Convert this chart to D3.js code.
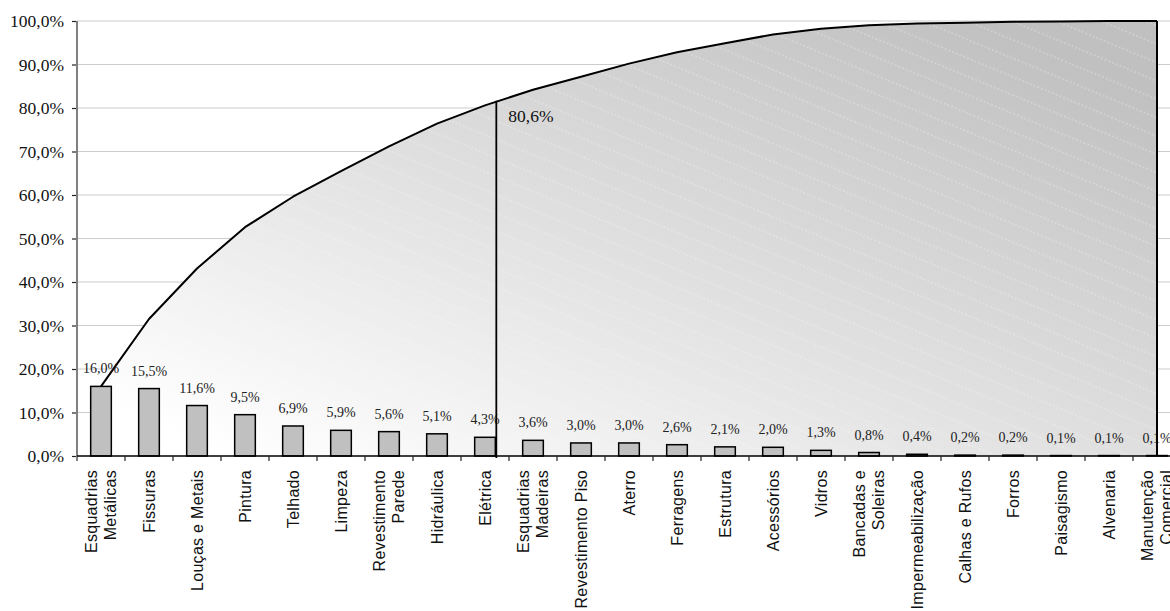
<!DOCTYPE html>
<html>
<head>
<meta charset="utf-8">
<script src="https://cdn.jsdelivr.net/npm/d3@7"></script>
<style>
  html, body { margin: 0; padding: 0; background: #ffffff; }
  svg { display: block; }
</style>
</head>
<body>
<svg id="chart" width="1170" height="611"></svg>
<script>
// Pareto of building defects: share of each item and running total (%)
const categories = [
  "Esquadrias\nMetálicas", "Fissuras", "Louças e Metais", "Pintura", "Telhado",
  "Limpeza", "Revestimento\nParede", "Hidráulica", "Elétrica", "Esquadrias\nMadeiras",
  "Revestimento Piso", "Aterro", "Ferragens", "Estrutura", "Acessórios", "Vidros",
  "Bancadas e\nSoleiras", "Impermeabilização", "Calhas e Rufos", "Forros",
  "Paisagismo", "Alvenaria", "Manutenção\nComercial"
];
const shares = [
  16.0, 15.5, 11.6, 9.5, 6.9, 5.9, 5.6, 5.1, 4.3, 3.6, 3.0, 3.0,
  2.6, 2.1, 2.0, 1.3, 0.8, 0.4, 0.2, 0.2, 0.1, 0.1, 0.1
];
const cumulative = [
  16.0, 31.5, 43.1, 52.6, 59.6, 65.5, 71.2, 76.4, 80.6, 84.2, 87.2, 90.2,
  92.8, 94.9, 96.9, 98.2, 99.0, 99.4, 99.6, 99.8, 99.9, 100.0, 100.0
];
const yTicks = [0, 10, 20, 30, 40, 50, 60, 70, 80, 90, 100];
const cutCategory = "Elétrica";
const cutValue = 80.6;

const fmt = v => v.toFixed(1).replace(".", ",") + "%";

const svg = d3.select("#chart");
const plot = { left: 77, right: 1181, top: 21, bottom: 456 };

const x = d3.scaleBand().domain(categories).range([plot.left, plot.right]).padding(0);
const y = d3.scaleLinear().domain([0, 100]).range([plot.bottom, plot.top]);
const bw = x.bandwidth();
const barW = bw * 0.43;
const cx = c => x(c) + bw / 2;

const rows = categories.map((c, i) => ({ cat: c, share: shares[i], cum: cumulative[i] }));

// defs: diagonal gradient and faint dashed hatch for the cumulative area
const defs = svg.append("defs");
const grad = defs.append("linearGradient")
  .attr("id", "areaGrad")
  .attr("x1", 0).attr("y1", 1).attr("x2", 1).attr("y2", 0);
grad.append("stop").attr("offset", "6%").attr("stop-color", "#ffffff");
grad.append("stop").attr("offset", "92%").attr("stop-color", "#c0c0c0");

const hatch = defs.append("pattern")
  .attr("id", "hatch")
  .attr("patternUnits", "userSpaceOnUse")
  .attr("width", 40).attr("height", 17)
  .attr("patternTransform", "rotate(22.4)");
hatch.append("line")
  .attr("x1", 0).attr("x2", 40).attr("y1", 8).attr("y2", 8)
  .attr("stroke", "#ffffff").attr("stroke-width", 1)
  .attr("stroke-dasharray", "2 2").attr("opacity", 0.4);

// gridlines
svg.append("g")
  .selectAll("line")
  .data(yTicks.filter(t => t > 0))
  .join("line")
  .attr("x1", plot.left).attr("x2", 1170)
  .attr("y1", d => y(d)).attr("y2", d => y(d))
  .attr("stroke", "#cccccc").attr("stroke-width", 1.2);

// cumulative area
const area = d3.area()
  .x(d => cx(d.cat))
  .y0(y(0))
  .y1(d => y(d.cum));
svg.append("path").datum(rows).attr("d", area).attr("fill", "url(#areaGrad)");
svg.append("path").datum(rows).attr("d", area).attr("fill", "url(#hatch)");

// cumulative line
const line = d3.line().x(d => cx(d.cat)).y(d => y(d.cum));
svg.append("path").datum(rows).attr("d", line)
  .attr("fill", "none").attr("stroke", "#000000").attr("stroke-width", 2)
  .attr("stroke-linejoin", "round");

// bars
svg.append("g")
  .selectAll("rect")
  .data(rows)
  .join("rect")
  .attr("x", d => cx(d.cat) - barW / 2)
  .attr("width", barW)
  .attr("y", d => y(d.share))
  .attr("height", d => y(0) - y(d.share))
  .attr("fill", "#c0c0c0")
  .attr("stroke", "#000000")
  .attr("stroke-width", 1.5);

// value labels
svg.append("g")
  .selectAll("text")
  .data(rows)
  .join("text")
  .attr("x", d => cx(d.cat))
  .attr("y", d => y(d.share) - 13)
  .attr("text-anchor", "middle")
  .attr("font-family", "'Liberation Serif', 'Times New Roman', serif")
  .attr("font-size", 14)
  .attr("fill", "#222222")
  .text(d => fmt(d.share));

// y axis
const yAxis = d3.axisLeft(y).tickValues(yTicks).tickFormat(fmt).tickSize(5).tickPadding(8);
const gy = svg.append("g").attr("transform", `translate(${plot.left},0)`).call(yAxis);
gy.attr("font-family", "'Liberation Serif', 'Times New Roman', serif").attr("font-size", 17.5);
gy.select(".domain").remove();
gy.selectAll(".tick line").attr("stroke", "#222222").attr("stroke-width", 1.2);
gy.selectAll(".tick text").attr("fill", "#111111");
svg.append("line")
  .attr("x1", plot.left).attr("x2", plot.left)
  .attr("y1", y(100)).attr("y2", y(0) + 5)
  .attr("stroke", "#808080").attr("stroke-width", 2);

// x axis baseline and tick marks at band edges
svg.append("line")
  .attr("x1", plot.left).attr("x2", plot.right)
  .attr("y1", y(0)).attr("y2", y(0))
  .attr("stroke", "#000000").attr("stroke-width", 1.5);
svg.append("g")
  .selectAll("line")
  .data(categories.slice(1))
  .join("line")
  .attr("x1", d => x(d)).attr("x2", d => x(d))
  .attr("y1", y(0)).attr("y2", y(0) + 5)
  .attr("stroke", "#222222").attr("stroke-width", 1.2);

// category labels, rotated
const lineH = 18.4;
const catG = svg.append("g")
  .selectAll("g")
  .data(categories)
  .join("g")
  .attr("transform", d => `translate(${cx(d)},${y(0) + 14}) rotate(-90)`);
catG.append("text")
  .attr("text-anchor", "end")
  .attr("font-family", "'Liberation Sans', Arial, sans-serif")
  .attr("font-size", 16)
  .attr("letter-spacing", 0.3)
  .attr("fill", "#111111")
  .each(function (d) {
    const parts = d.split("\n");
    const t = d3.select(this);
    parts.forEach((p, i) => {
      t.append("tspan")
        .attr("x", 0)
        .attr("y", 5.5 + (i - (parts.length - 1) / 2) * lineH)
        .text(p);
    });
  });

// 80/20 marker: vertical line at the right edge of the cut bar, up to the curve
const cutIdx = categories.indexOf(cutCategory);
const cutX = cx(cutCategory) + barW / 2 + 1;
const frac = (cutX - cx(categories[cutIdx])) / bw;
const curveAtCut = cumulative[cutIdx] + (cumulative[cutIdx + 1] - cumulative[cutIdx]) * frac;
svg.append("line")
  .attr("x1", cutX).attr("x2", cutX)
  .attr("y1", y(curveAtCut) - 1).attr("y2", y(0) + 2)
  .attr("stroke", "#000000").attr("stroke-width", 1.8);
svg.append("text")
  .attr("x", cutX + 12)
  .attr("y", y(cutValue) + 17)
  .attr("font-family", "'Liberation Serif', 'Times New Roman', serif")
  .attr("font-size", 17.5)
  .attr("fill", "#111111")
  .text(fmt(cutValue));

// closing edge of the area at the last category
const last = rows[rows.length - 1];
svg.append("line")
  .attr("x1", cx(last.cat)).attr("x2", cx(last.cat))
  .attr("y1", y(last.cum)).attr("y2", y(0))
  .attr("stroke", "#000000").attr("stroke-width", 2);
</script>
</body>
</html>
